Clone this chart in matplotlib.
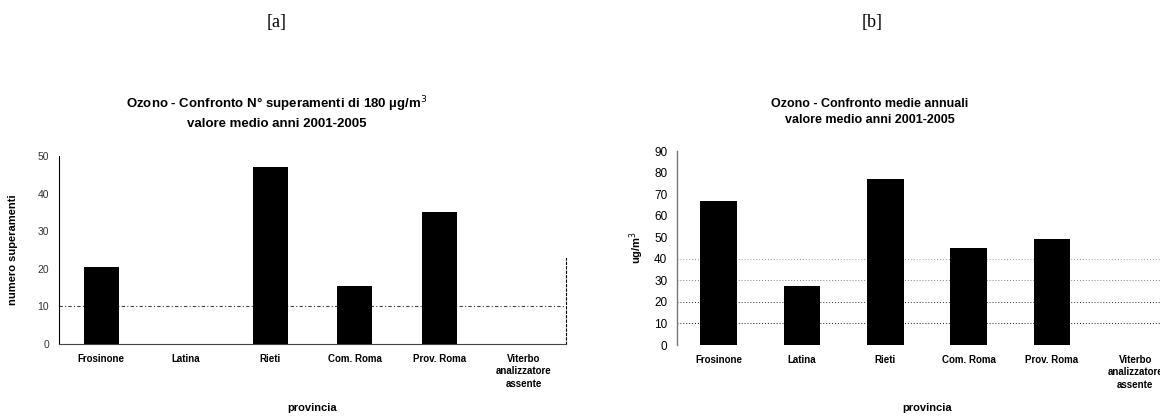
import matplotlib
matplotlib.use("Agg")
import matplotlib.pyplot as plt

plt.rcParams['font.family'] = ['Liberation Sans', 'DejaVu Sans']

categories = ["Frosinone", "Latina", "Rieti", "Com. Roma", "Prov. Roma",
              "Viterbo\nanalizzatore\nassente"]
superamenti = [20.5, 0, 47, 15.5, 35, 0]
medie_annuali = [67, 27.5, 77, 45, 49.3, 0]

title_a = "Ozono - Confronto N° superamenti di 180 µg/m$^3$\nvalore medio anni 2001-2005"
title_b = "Ozono - Confronto medie annuali\nvalore medio anni 2001-2005"

fig = plt.figure(figsize=(11.6, 4.19), dpi=100)
x = list(range(len(categories)))

# ---- panel a ----
axa = fig.add_axes([59/1160, 75/419, 507/1160, 188/419])
axa.bar(x, superamenti, width=0.42, color='black', zorder=3)
axa.set_xlim(-0.5, len(categories) - 0.5)
axa.set_ylim(0, 50)
axa.set_yticks(range(0, 51, 10))
axa.set_xticks(x)
axa.set_xticklabels(categories, fontsize=7, fontweight='bold', linespacing=1.3)
axa.tick_params(axis='both', length=0, pad=7, labelsize=7.5)
for lab in axa.get_xticklabels():
    lab.set_fontweight('bold')
    lab.set_fontsize(7)
for lab in axa.get_yticklabels():
    lab.set_color('#333333')
axa.axhline(10, color='#444444', lw=0.8, ls=(0, (3, 2, 1, 2)), zorder=1)
axa.spines['top'].set_visible(False)
axa.spines['left'].set_linestyle((0, (3, 1, 1, 1)))
axa.spines['left'].set_linewidth(0.8)
axa.spines['bottom'].set_linestyle((0, (4, 1)))
axa.spines['bottom'].set_color('#444444')
axa.spines['bottom'].set_linewidth(0.8)
axa.spines['right'].set_linestyle((0, (2, 2)))
axa.spines['right'].set_linewidth(0.8)
axa.spines['right'].set_bounds(0, 23)
axa.set_ylabel("numero superamenti", fontsize=8, fontweight='bold', labelpad=14)

# ---- panel b ----
axb = fig.add_axes([677/1160, 74/419, 500/1160, 194/419])
axb.bar(x, medie_annuali, width=0.44, color='black', zorder=3)
axb.set_xlim(-0.5, len(categories) - 0.5)
axb.set_ylim(0, 90)
axb.set_yticks(range(0, 91, 10))
axb.set_xticks(x)
axb.set_xticklabels(categories, fontsize=7, fontweight='bold', linespacing=1.3)
axb.tick_params(axis='both', length=0, pad=7, labelsize=8.5)
for lab in axb.get_xticklabels():
    lab.set_fontweight('bold')
    lab.set_fontsize(7)
for yv, a in [(10, 0.9), (20, 0.8), (30, 0.5), (40, 0.4)]:
    axb.axhline(yv, color='black', alpha=a, lw=0.7, ls=(0, (1, 2)), zorder=1)
axb.axhline(0, color='black', alpha=0.5, lw=0.7, ls=(0, (1, 3)), zorder=1)
for s in ['top', 'right', 'bottom']:
    axb.spines[s].set_visible(False)
axb.spines['left'].set_color('#777777')
axb.spines['left'].set_linewidth(1.0)
axb.set_ylabel("ug/m$^3$", fontsize=8, fontweight='bold', labelpad=6)

# ---- axis titles (x) ----
fig.text(312/1160, 1 - 408/419, "provincia", ha='center', va='center',
         fontsize=8, fontweight='bold')
fig.text(927/1160, 1 - 408/419, "provincia", ha='center', va='center',
         fontsize=8, fontweight='bold')

# ---- titles ----
fig.text(277/1160, 1 - 22/419, "[a]", ha='center', va='center',
         fontsize=13, family=['Liberation Serif', 'DejaVu Serif'])
fig.text(872/1160, 1 - 22/419, "[b]", ha='center', va='center',
         fontsize=13, family=['Liberation Serif', 'DejaVu Serif'])
fig.text(277/1160, 1 - 112/419, title_a, ha='center', va='center',
         fontsize=9.5, fontweight='bold', linespacing=1.45)
fig.text(870/1160, 1 - 112/419, title_b, ha='center', va='center',
         fontsize=9, fontweight='bold', linespacing=1.5)

fig.savefig("out.png", dpi=100)
